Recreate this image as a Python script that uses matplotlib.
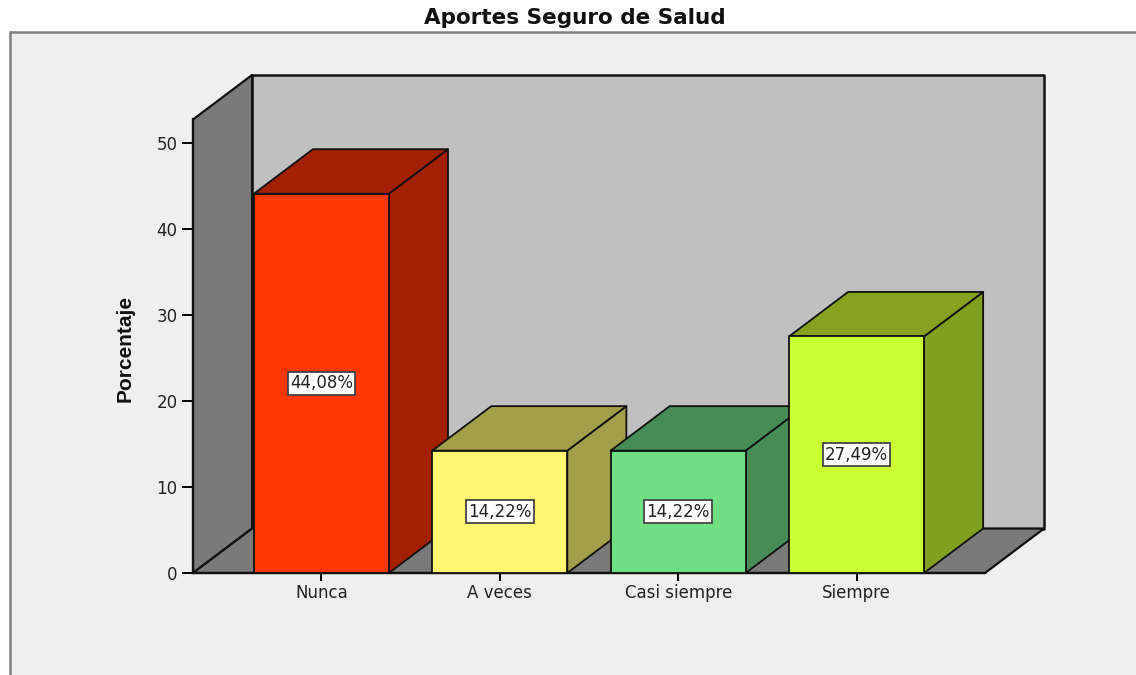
import matplotlib
matplotlib.use("Agg")
import matplotlib.pyplot as plt
from matplotlib.patches import Polygon, Rectangle

categories = ["Nunca", "A veces", "Casi siempre", "Siempre"]
values = [44.08, 14.22, 14.22, 27.49]
labels = ["44,08%", "14,22%", "14,22%", "27,49%"]
front_colors = ["#ff3700", "#fdf76f", "#70df84", "#ccff33"]
side_colors = ["#a32100", "#a29f4a", "#458c56", "#80a020"]
top_colors = ["#a32100", "#a29f4a", "#458c56", "#85a220"]
y_ticks = [0, 10, 20, 30, 40, 50]

W, H = 1136, 675
bar_width = 0.757
depth_x = 0.331
depth_y = 5.17
y_top = 52.7
x_lo, x_hi = -0.72, 3.72
line = "#111111"


def poly(ax, pts, color, lw=1.3, z=3):
    ax.add_patch(Polygon(pts, closed=True, facecolor=color, edgecolor=line,
                         linewidth=lw, joinstyle="round", clip_on=False, zorder=z))


fig = plt.figure(figsize=(W / 100, H / 100), dpi=100, facecolor="white")

# grey panel behind the chart, open on the right and at the bottom
fig.add_artist(Rectangle((10 / W, -0.05), 1.2, 1 - 32 / H + 0.05, transform=fig.transFigure,
                         facecolor="#efefef", edgecolor="#808080", linewidth=1.8, zorder=-1))

ax = fig.add_axes([193 / W, 1 - 573 / H, 792 / W, 453.5 / H])
ax.patch.set_alpha(0)
ax.set_xlim(x_lo, x_hi)
ax.set_ylim(0, y_top)

# walls and floor
poly(ax, [(x_lo + depth_x, depth_y), (x_hi + depth_x, depth_y),
          (x_hi + depth_x, y_top + depth_y), (x_lo + depth_x, y_top + depth_y)], "#c0c0c0", 1.8, 1)
poly(ax, [(x_lo, 0), (x_lo + depth_x, depth_y), (x_lo + depth_x, y_top + depth_y), (x_lo, y_top)],
     "#7a7a7a", 1.6, 1.1)
poly(ax, [(x_lo, 0), (x_hi, 0), (x_hi + depth_x, depth_y), (x_lo + depth_x, depth_y)],
     "#7a7a7a", 1.6, 1.2)

for i, v in enumerate(values):
    x0 = i - bar_width / 2
    x1 = i + bar_width / 2
    z = 3 + i
    poly(ax, [(x1, 0), (x1 + depth_x, depth_y), (x1 + depth_x, v + depth_y), (x1, v)], side_colors[i], z=z)
    poly(ax, [(x0, v), (x1, v), (x1 + depth_x, v + depth_y), (x0 + depth_x, v + depth_y)], top_colors[i], z=z)
    poly(ax, [(x0, 0), (x1, 0), (x1, v), (x0, v)], front_colors[i], z=z)
    ax.text(i, v / 2, labels[i], ha="center", va="center", fontsize=12, color="#222222", zorder=10,
            bbox=dict(boxstyle="square,pad=0.14", facecolor="white", edgecolor="#444444", linewidth=1.3))

ax.set_xticks(range(len(categories)))
ax.set_xticklabels(categories, fontsize=12, color="#222222")
ax.set_yticks(y_ticks)
ax.tick_params(axis="y", length=8, width=1.4, labelsize=12, labelcolor="#222222", pad=3)
ax.tick_params(axis="x", length=6, width=1.4, pad=2)

for side in ["top", "right"]:
    ax.spines[side].set_visible(False)
for side in ["left", "bottom"]:
    ax.spines[side].set_linewidth(1.6)
    ax.spines[side].set_color(line)

ax.set_ylabel("Porcentaje", fontsize=15, fontweight="bold", family="Liberation Sans", color="#111111")
ax.yaxis.set_label_coords(-58 / 792, 0.495)

fig.text(575 / W, 1 - 18 / H, "Aportes Seguro de Salud", ha="center", va="center",
         fontsize=15.5, fontweight="bold", color="#111111")

fig.savefig("out.png", dpi=100, facecolor=fig.get_facecolor())
